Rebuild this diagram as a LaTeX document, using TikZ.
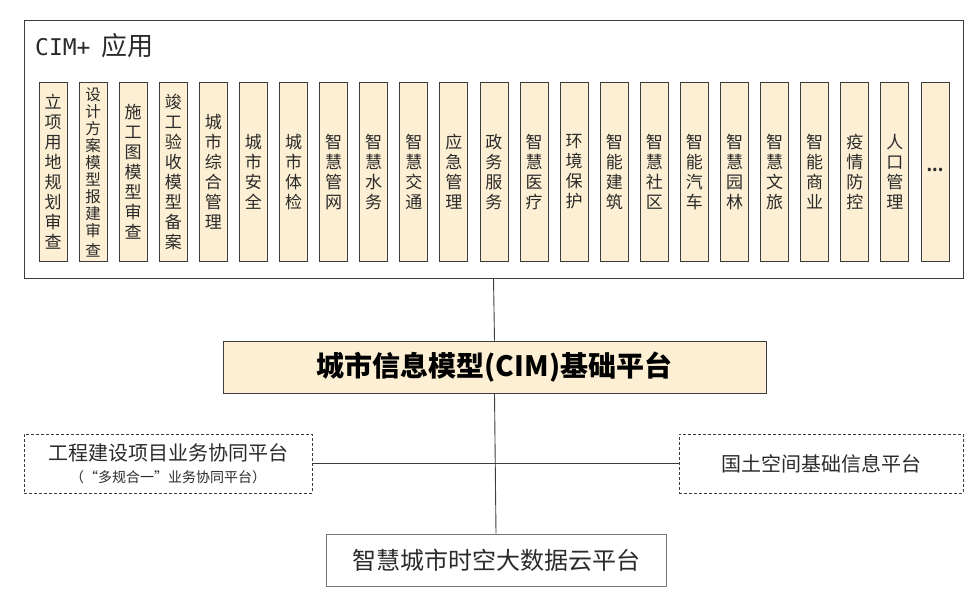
\documentclass[tikz,border=0pt]{standalone}
\usepackage{fontspec}
\setmainfont{Noto Sans CJK SC}
\newfontfamily\monofam{DejaVu Sans Mono}
\definecolor{boxfill}{HTML}{FCEFD3}
\definecolor{edge}{HTML}{3C3C3C}
\definecolor{txt}{HTML}{2A2A2A}
\tikzset{
  colbox/.style={draw=edge, line width=0.9pt, fill=boxfill, minimum width=28, minimum height=179,
    text width=26pt, inner sep=0pt, align=center, text=txt, font=\fontsize{17}{20}\selectfont},
  framebox/.style={draw=edge, line width=0.9pt, inner sep=0pt},
  dashbox/.style={draw=edge, line width=0.8pt, dash pattern=on 3pt off 2pt, inner sep=0pt,
    minimum width=288, minimum height=59, align=center, text=txt},
  link/.style={draw=edge, line width=0.9pt}
}
\begin{document}
\begin{tikzpicture}[x=1pt,y=-1pt]
\useasboundingbox (0,0) rectangle (971,592);
% outer application frame
\node[framebox, minimum width=939, minimum height=258] (app) at (493.5,149) {};
\node[anchor=west, inner sep=0pt, text=txt] (title) at (35,46)
  {{\monofam\fontsize{23}{23}\selectfont CIM+}\hspace{11pt}{\fontsize{26}{26}\selectfont 应用}};
% columns
\foreach \t [count=\i] in {
  {立\\项\\用\\地\\规\\划\\审\\查},
  {\fontsize{15.5}{17}\selectfont 设\\计\\方\\案\\模\\型\\报\\建\\审\\查},
  {施\\工\\图\\模\\型\\审\\查},
  {竣\\工\\验\\收\\模\\型\\备\\案},
  {城\\市\\综\\合\\管\\理},
  {城\\市\\安\\全},
  {城\\市\\体\\检},
  {智\\慧\\管\\网},
  {智\\慧\\水\\务},
  {智\\慧\\交\\通},
  {应\\急\\管\\理},
  {政\\务\\服\\务},
  {智\\慧\\医\\疗},
  {环\\境\\保\\护},
  {智\\能\\建\\筑},
  {智\\慧\\社\\区},
  {智\\能\\汽\\车},
  {智\\慧\\园\\林},
  {智\\慧\\文\\旅},
  {智\\能\\商\\业},
  {疫\\情\\防\\控},
  {人\\口\\管\\理},
  {\fontsize{16}{16}\selectfont\bfseries\raisebox{0.3em}{...}}}
{
  \node[colbox] (c\i) at ({53+(\i-1)*40.09},172) {\t};
}
% core platform
\node[draw=edge, line width=0.9pt, fill=boxfill, minimum width=543, minimum height=52, inner sep=0pt,
  font=\fontsize{28}{28}\selectfont\bfseries, text=black] (core) at (494.5,367) {城市信息模型(CIM)基础平台};
% side platforms
\node[dashbox] (left) at (168,463.5)
  {{\fontsize{20}{22}\selectfont 工程建设项目业务协同平台}\\[7pt]{\fontsize{14}{16}\selectfont （“多规合一”业务协同平台）}};
\node[dashbox, minimum width=284] (right) at (821,463.5) {\fontsize{20}{22}\selectfont 国土空间基础信息平台};
% bottom platform
\node[draw=edge!70, line width=0.9pt, minimum width=340, minimum height=52, inner sep=0pt,
  font=\fontsize{24}{24}\selectfont, text=txt] (cloud) at (496,560) {智慧城市时空大数据云平台};
% connectors
\draw[link] (app.south) -- (core.north);
\draw[link] (core.south) -- (cloud.north);
\draw[link] (left.east) -- (right.west);
\end{tikzpicture}
\end{document}
